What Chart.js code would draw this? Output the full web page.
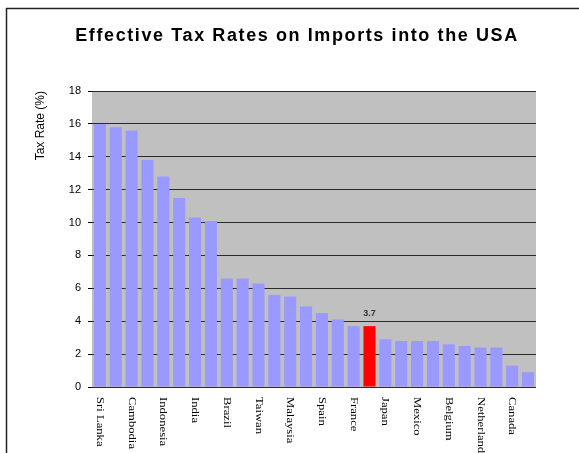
<!DOCTYPE html>
<html>
<head>
<meta charset="utf-8">
<title>Effective Tax Rates on Imports into the USA</title>
<script src="https://cdn.jsdelivr.net/npm/chart.js@4"></script>
<style>
    html, body { margin: 0; padding: 0; background: #fff; }
    #wrap { position: relative; width: 579px; height: 453px; overflow: hidden; }
</style>
</head>
<body>
<div id="wrap"><canvas id="chartContainer" width="579" height="453"></canvas></div>
<script>
// Chart data (only every second country is named on the axis)
const countries = [
    'Sri Lanka', '', 'Cambodia', '', 'Indonesia', '', 'India', '',
    'Brazil', '', 'Taiwan', '', 'Malaysia', '', 'Spain', '',
    'France', '', 'Japan', '', 'Mexico', '', 'Belgium', '',
    'Netherland', '', 'Canada', ''
];
const taxRates = [
    16.0, 15.8, 15.6, 13.8, 12.8, 11.5, 10.3, 10.1,
    6.6, 6.6, 6.3, 5.6, 5.5, 4.9, 4.5, 4.1,
    3.7, 3.7, 2.9, 2.8, 2.8, 2.8, 2.6, 2.5,
    2.4, 2.4, 1.3, 0.9
];
const highlightIndex = 17; // the red bar
const yTicks = [0, 2, 4, 6, 8, 10, 12, 14, 16, 18];

const chartTitle = 'Effective Tax Rates on Imports into the USA';

// grey plot background, outer frame, title, rotated labels and value label
const decorPlugin = {
    id: 'decor',
    beforeDraw: (chart) => {
        const ctx = chart.ctx;
        const a = chart.chartArea;
        ctx.save();
        ctx.fillStyle = '#c0c0c0';
        ctx.fillRect(a.left, a.top, a.right - a.left, a.bottom - a.top);
        ctx.restore();
    },
    afterDraw: (chart) => {
        const ctx = chart.ctx;
        const xScale = chart.scales.x;

        // frame
        ctx.save();
        ctx.strokeStyle = '#222';
        ctx.lineWidth = 1.5;
        ctx.strokeRect(6.5, 8.5, 800, 800);

        // title
        ctx.fillStyle = '#000';
        ctx.font = 'bold 18px "Liberation Sans", Arial, sans-serif';
        ctx.letterSpacing = '1.6px';
        ctx.textAlign = 'center';
        ctx.textBaseline = 'alphabetic';
        ctx.fillText(chartTitle, 297, 41);
        ctx.letterSpacing = '0px';

        // category labels, reading top to bottom
        ctx.font = '11px "Liberation Serif", "Times New Roman", serif';
        ctx.textAlign = 'left';
        ctx.textBaseline = 'middle';
        countries.forEach((name, i) => {
            if (!name) return;
            const x = xScale.getPixelForValue(i);
            ctx.save();
            ctx.translate(x, chart.chartArea.bottom + 10);
            ctx.rotate(Math.PI / 2);
            ctx.scale(1.15, 1);
            ctx.fillText(name, 0, 0);
            ctx.restore();
        });

        // value label above highlighted bar
        const bar = chart.getDatasetMeta(0).data[highlightIndex];
        ctx.font = 'bold 9px "Liberation Sans", Arial, sans-serif';
        ctx.fillStyle = '#333';
        ctx.textAlign = 'center';
        ctx.textBaseline = 'bottom';
        ctx.fillText(taxRates[highlightIndex].toFixed(1), bar.x, bar.y - 8);
        ctx.restore();
    }
};

const ctx = document.getElementById('chartContainer').getContext('2d');
const chart = new Chart(ctx, {
    type: 'bar',
    data: {
        labels: countries,
        datasets: [{
            label: 'Tax Rate (%)',
            data: taxRates,
            backgroundColor: taxRates.map((_, i) => i === highlightIndex ? '#ff0000' : '#9999ff'),
            borderWidth: 0,
            barPercentage: 0.76,
            categoryPercentage: 1.0,
        }]
    },
    options: {
        responsive: false,
        animation: false,
        devicePixelRatio: 1,
        layout: { padding: { top: 91, right: 43, left: 0, bottom: 0 } },
        plugins: {
            legend: { display: false },
            tooltip: { enabled: false },
        },
        scales: {
            x: {
                grid: { display: false },
                border: { display: false },
                ticks: { display: false },
                afterFit: (scale) => { scale.height = 66; },
            },
            y: {
                min: 0,
                max: 18,
                afterBuildTicks: (scale) => { scale.ticks = yTicks.map(v => ({ value: v })); },
                ticks: {
                    color: '#000',
                    padding: 7,
                    font: { family: '"Liberation Sans", Arial, sans-serif', size: 11 },
                },
                grid: {
                    color: '#2a2a2a',
                    lineWidth: 1,
                    tickLength: 4,
                    tickColor: '#000',
                },
                border: { display: false },
                title: {
                    display: true,
                    text: 'Tax Rate (%)',
                    align: 'end',
                    color: '#000',
                    padding: { top: 33, bottom: 0 },
                    font: { family: '"Liberation Sans", Arial, sans-serif', size: 12 },
                },
                afterFit: (scale) => { scale.width = 92; },
            }
        }
    },
    plugins: [decorPlugin]
});
</script>
</body>
</html>
